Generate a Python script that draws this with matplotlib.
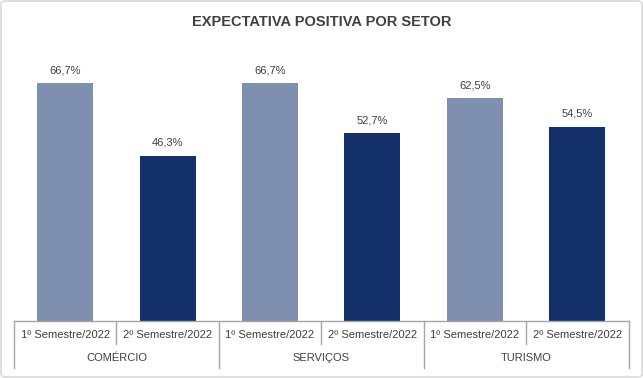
import matplotlib.pyplot as plt
from matplotlib.patches import FancyBboxPatch
from matplotlib.lines import Line2D

setores = ["COMÉRCIO", "SERVIÇOS", "TURISMO"]
semestres = ["1º Semestre/2022", "2º Semestre/2022"]
sem1 = [66.7, 66.7, 62.5]
sem2 = [46.3, 52.7, 54.5]
cores = ["#7F8FAF", "#13306A"]

plt.rcParams['font.family'] = ['Liberation Sans', 'DejaVu Sans']

W, H = 643, 378
fig = plt.figure(figsize=(W / 100, H / 100), dpi=100)

# moldura do gráfico
fig.patches.append(FancyBboxPatch((1 / W, 1 / H), 1 - 2 / W, 1 - 2 / H,
                                  boxstyle="round,pad=0,rounding_size=0.008",
                                  transform=fig.transFigure, fc="none",
                                  ec="#D9D9D9", lw=1.2, zorder=-1))

x0, x1 = 14, 628.5
y_base, y_top = 321, 50
ax = fig.add_axes([x0 / W, 1 - y_base / H, (x1 - x0) / W, (y_base - y_top) / H])
ax.patch.set_alpha(0)

px_per = (321 - 83) / 66.7
ax.set_ylim(0, (y_base - y_top) / px_per)
n = len(setores) * 2
ax.set_xlim(-0.5, n - 0.5)

for i in range(len(setores)):
    for j, vals in enumerate([sem1, sem2]):
        pos = 2 * i + j
        ax.bar(pos, vals[i], width=0.547, color=cores[j], zorder=2)
        ax.text(pos, vals[i] + 3.6, f"{vals[i]:.1f}%".replace(".", ","),
                ha="center", va="center", fontsize=8, color="#404040")

for s in ax.spines.values():
    s.set_visible(False)
ax.set_xticks([])
ax.set_yticks([])

# eixo e rótulos em dois níveis
def yf(py):
    return 1 - py / H

lc = "#A6A6A6"
fig.add_artist(Line2D([x0 / W, x1 / W], [yf(321), yf(321)], color=lc, lw=1))
for k in range(len(setores) + 1):
    xx = (x0 + k * (x1 - x0) / 3) / W
    fig.add_artist(Line2D([xx, xx], [yf(321), yf(368)], color=lc, lw=1))
for k in range(len(setores)):
    xx = (x0 + (2 * k + 1) * (x1 - x0) / 6) / W
    fig.add_artist(Line2D([xx, xx], [yf(321), yf(344)], color=lc, lw=1))

slot = (x1 - x0) / 6
for i, setor in enumerate(setores):
    for j, sem in enumerate(semestres):
        cx = (x0 + (2 * i + j + 0.5) * slot) / W
        fig.text(cx, yf(335), sem, ha="center", va="center", fontsize=8,
                 color="#404040")
    cx = (x0 + (2 * i + 1) * slot) / W
    fig.text(cx, yf(358), setor, ha="center", va="center", fontsize=8,
             color="#404040")

fig.text(0.5, yf(22), "EXPECTATIVA POSITIVA POR SETOR", ha="center",
         va="center", fontsize=10.5, fontweight="bold", color="#404040")

fig.savefig("out.png", dpi=100)
